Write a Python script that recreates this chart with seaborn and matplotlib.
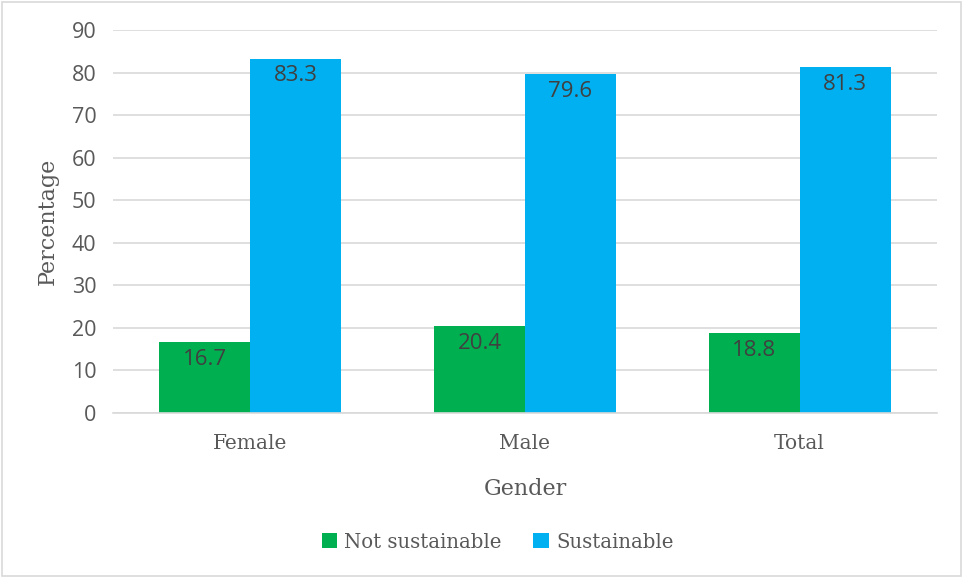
import matplotlib
matplotlib.use("Agg")
import matplotlib.pyplot as plt
import seaborn as sns
import pandas as pd
from matplotlib.patches import Rectangle

categories = ["Female", "Male", "Total"]
not_sustainable = [16.7, 20.4, 18.8]
sustainable = [83.3, 79.6, 81.3]
series_names = ["Not sustainable", "Sustainable"]
y_ticks = [0, 10, 20, 30, 40, 50, 60, 70, 80, 90]

df = pd.DataFrame({
    "Gender": categories * 2,
    "Percentage": not_sustainable + sustainable,
    "Series": [series_names[0]] * 3 + [series_names[1]] * 3,
})

sns.set_theme(style="white")
SERIF = ["DejaVu Serif"]
SANS = ["Open Sans", "DejaVu Sans"]
plt.rcParams["font.family"] = SANS

fig = plt.figure(figsize=(9.63, 5.77), dpi=100)
ax = fig.add_axes([0.1173, 0.2842, 0.8557, 0.6638])

palette = {"Not sustainable": "#00B050", "Sustainable": "#00B0F0"}
sns.barplot(data=df, x="Gender", y="Percentage", hue="Series", palette=palette,
            width=0.663, ax=ax, saturation=1, errorbar=None, legend=True,
            linewidth=0)

ax.set_ylim(0, 90)
ax.set_xlim(-0.5, 2.5)
ax.set_yticks(y_ticks)
ax.yaxis.grid(True, color="#d9d9d9", linewidth=1.2)
ax.set_axisbelow(True)
for s in ["top", "right", "left"]:
    ax.spines[s].set_visible(False)
ax.spines["bottom"].set_color("#d9d9d9")
ax.spines["bottom"].set_linewidth(1.2)
ax.tick_params(axis="both", length=0)
ax.tick_params(axis="y", labelsize=15.5, labelcolor="#595959", pad=12)
ax.tick_params(axis="x", labelsize=14.5, labelcolor="#595959", pad=15)
for lbl in ax.get_xticklabels():
    lbl.set_fontfamily(SERIF)

ax.set_ylabel("Percentage", fontsize=16, color="#595959", family=SERIF, labelpad=9)
ax.set_xlabel("Gender", fontsize=16, color="#595959", family=SERIF, labelpad=18)

for cont in ax.containers:
    for p in cont:
        h = p.get_height()
        ax.annotate(f"{h:.1f}", (p.get_x() + p.get_width() / 2, h),
                    xytext=(0, -5), textcoords="offset points",
                    ha="center", va="top", fontsize=16, color="#404040",
                    family=SANS)

leg = ax.legend(loc="center", ncol=2, frameon=False,
                prop={"family": SERIF, "size": 14.2},
                handlelength=0.8, handleheight=0.8, handletextpad=0.35,
                columnspacing=1.6)
leg.set_bbox_to_anchor((497.5 / 963, 1 - 542 / 577), transform=fig.transFigure)
for t in leg.get_texts():
    t.set_color("#595959")

fig.patches.append(Rectangle((0.002, 0.002), 0.996, 0.994, transform=fig.transFigure,
                             fill=False, edgecolor="#d9d9d9", linewidth=1.2))

fig.savefig("out.png", dpi=100, facecolor="white")
